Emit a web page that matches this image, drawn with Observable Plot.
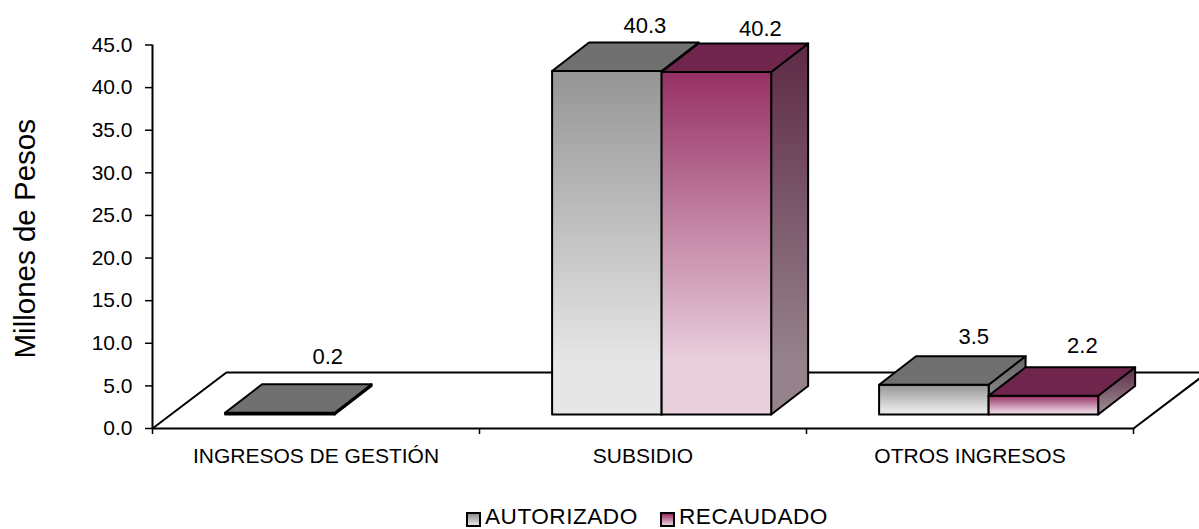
<!DOCTYPE html>
<html lang="es">
<head>
<meta charset="utf-8">
<script src="https://cdn.jsdelivr.net/npm/d3@7"></script>
<script src="https://cdn.jsdelivr.net/npm/@observablehq/plot@0.6"></script>
<style>
html,body{margin:0;padding:0;background:#fff;overflow:hidden;}
svg{display:block;}
#legend{height:39px;box-sizing:border-box;width:1199px;position:relative;font:22.6px "Liberation Sans",Arial,sans-serif;letter-spacing:.5px;color:#000;}
#legend .item{position:absolute;top:16.5px;display:flex;align-items:center;line-height:19px;height:19px;}
#legend i{display:block;width:11px;height:11px;border:2px solid #000;margin-right:4px;position:relative;top:3px;}
#legend span{display:block;height:19px;line-height:19px;}
</style>
</head>
<body>
<div id="chart"></div>
<div id="legend"></div>
<script>
const categories = ["INGRESOS DE GESTIÓN", "SUBSIDIO", "OTROS INGRESOS"];
const series = ["AUTORIZADO", "RECAUDADO"];
const autorizado = [0.2, 40.3, 3.5];
const recaudado = [null, 40.2, 2.2];
const yTicks = [0, 5, 10, 15, 20, 25, 30, 35, 40, 45];
const yLabel = "Millones de Pesos";

// Projection of the 3D box, in scale units
const barW = 0.335, gap = (1 - 2 * barW) / 2;
const frontX = 0.057, frontY = 1.64, depthX = 0.113, depthY = 3.345;
const floorX = 0.226, floorY = 6.57;

const skins = [
  {front: "url(#gFrontA)", side: "url(#gSideA)", top: "#707070", swatch: "linear-gradient(#8f8f8f,#e6e6e6)"},
  {front: "url(#gFrontB)", side: "url(#gSideB)", top: "#70264c", swatch: "linear-gradient(#973064,#e8cfdc)"}
];
// Hand placement of the value labels, px relative to the top-back centre of each bar
const labelNudge = [
  [[11, -27], [1, -17], [3, -19]],
  [null, [7, -14], [2, -21]]
];

const line = {x: "x", y: "y", curve: "linear-closed", stroke: "#000", strokeWidth: 2, strokeLinejoin: "round"};
const poly = (pts, fill, opts = {}) =>
  Plot.line(pts.map(([x, y]) => ({x, y})), {...line, fill, ...opts});

const floor = [[0, 0], [floorX, floorY], [3 + floorX, floorY], [3, 0]].map(([x, y]) => ({x, y}));

const barMarks = [];
const labelMarks = [];
[autorizado, recaudado].forEach((vals, s) => {
  vals.forEach((v, i) => {
    if (v == null) return;
    const x0 = i + gap + s * barW + frontX, x1 = x0 + barW;
    const y0 = frontY, y1 = frontY + v;
    const sk = skins[s];
    barMarks.push(
      poly([[x1, y0], [x1 + depthX, y0 + depthY], [x1 + depthX, y1 + depthY], [x1, y1]], sk.side),
      poly([[x0, y0], [x1, y0], [x1, y1], [x0, y1]], sk.front),
      poly([[x0, y1], [x1, y1], [x1 + depthX, y1 + depthY], [x0 + depthX, y1 + depthY]], sk.top)
    );
    const [dx, dy] = labelNudge[s][i];
    labelMarks.push(Plot.text([{x: (x0 + x1) / 2 + depthX, y: y1 + depthY, t: v.toFixed(1)}], {
      x: "x", y: "y", text: "t", dx, dy, fontSize: 22, fill: "#000"
    }));
  });
});

const plot = Plot.plot({
  width: 1199,
  height: 490,
  marginLeft: 152,
  marginRight: 66,
  marginTop: 44.5,
  marginBottom: 62,
  style: {fontFamily: "'Liberation Sans',Arial,sans-serif", background: "#fff", color: "#000", overflow: "hidden"},
  x: {type: "linear", domain: [0, 3]},
  y: {type: "linear", domain: [0, 45]},
  marks: [
    Plot.line(floor, {x: "x", y: "y", stroke: "#000", strokeWidth: 2}),
    ...barMarks,
    Plot.ruleX([0], {y1: 0, y2: 45, stroke: "#000", strokeWidth: 2}),
    Plot.ruleY([0], {x1: 0, x2: 3, stroke: "#000", strokeWidth: 2}),
    Plot.axisY({ticks: yTicks, tickFormat: d => d.toFixed(1), tickSize: 7, tickPadding: 13, fontSize: 21, label: null, strokeWidth: 1.5, stroke: "#000"}),
    Plot.axisX({ticks: [0, 1, 2, 3], tickFormat: () => "", tickSize: 6, label: null, strokeWidth: 1.5, stroke: "#000"}),
    Plot.axisX({ticks: [0.5, 1.5, 2.5], tickFormat: d => categories[Math.floor(d)], tickSize: 0, tickPadding: 20, fontSize: 21, label: null, stroke: "none"}),
    ...labelMarks,
    Plot.text([yLabel], {frameAnchor: "left", rotate: -90, textAnchor: "middle", dx: -127, dy: 2, fontSize: 29.5, fill: "#000", text: d => d})
  ]
});

const defs = d3.select(plot).insert("svg:defs", ":first-child");
[["gFrontA", "#959595", "#e6e6e6"], ["gFrontB", "#973064", "#e9d0dd"],
 ["gSideA", "#666666", "#8c8c8c"], ["gSideB", "#5e2a46", "#95828b"]].forEach(([id, a, b]) => {
  const g = defs.append("linearGradient").attr("id", id).attr("x1", 0).attr("y1", 0).attr("x2", 0).attr("y2", 1);
  g.append("stop").attr("offset", "0%").attr("stop-color", a);
  g.append("stop").attr("offset", "85%").attr("stop-color", b);
  g.append("stop").attr("offset", "100%").attr("stop-color", b);
});
document.getElementById("chart").append(plot);

const legend = d3.select("#legend");
const legendLeft = [466, 660];
series.forEach((name, s) => {
  const it = legend.append("div").attr("class", "item").style("left", legendLeft[s] + "px");
  it.append("i").style("background", skins[s].swatch);
  it.append("span").text(name);
});
</script>
</body>
</html>
